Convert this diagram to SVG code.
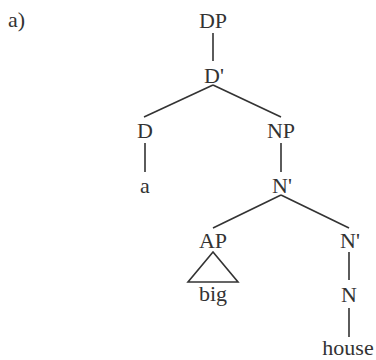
<svg xmlns="http://www.w3.org/2000/svg" width="376" height="360" viewBox="0 0 376 360">
<style>
text{font-family:"Liberation Serif","Times New Roman",serif;font-size:22px;fill:#333;text-anchor:middle}
.e line,.e polygon{stroke:#333;stroke-width:1.6;fill:none}
</style>
<rect width="376" height="360" fill="#fff"/>
<g id="label"><text x="8" y="27" style="text-anchor:start">a)</text></g>
<g class="e" id="connectors">
<line x1="213" y1="33" x2="213" y2="61"/>
<line x1="213" y1="85" x2="144" y2="117"/>
<line x1="213" y1="85" x2="281" y2="117"/>
<line x1="145" y1="143" x2="145" y2="172"/>
<line x1="281" y1="143" x2="281" y2="172"/>
<line x1="281" y1="195" x2="213" y2="228"/>
<line x1="281" y1="195" x2="349" y2="228"/>
<line x1="349" y1="252" x2="349" y2="280"/>
<line x1="349" y1="308" x2="349" y2="337"/>
<polygon points="213,252 188,282 238,282"/>
</g>
<g id="DP"><text x="213" y="28">DP</text></g>
<g id="Dbar"><text x="214" y="83">D'</text></g>
<g id="D"><text x="145" y="138">D</text></g>
<g id="NP"><text x="281" y="138">NP</text></g>
<g id="a"><text x="145" y="193">a</text></g>
<g id="Nbar1"><text x="282" y="193">N'</text></g>
<g id="AP"><text x="213" y="248">AP</text></g>
<g id="big"><text x="213" y="301">big</text></g>
<g id="Nbar2"><text x="350" y="248">N'</text></g>
<g id="N"><text x="349" y="302">N</text></g>
<g id="house"><text x="348" y="355">house</text></g>
</svg>
